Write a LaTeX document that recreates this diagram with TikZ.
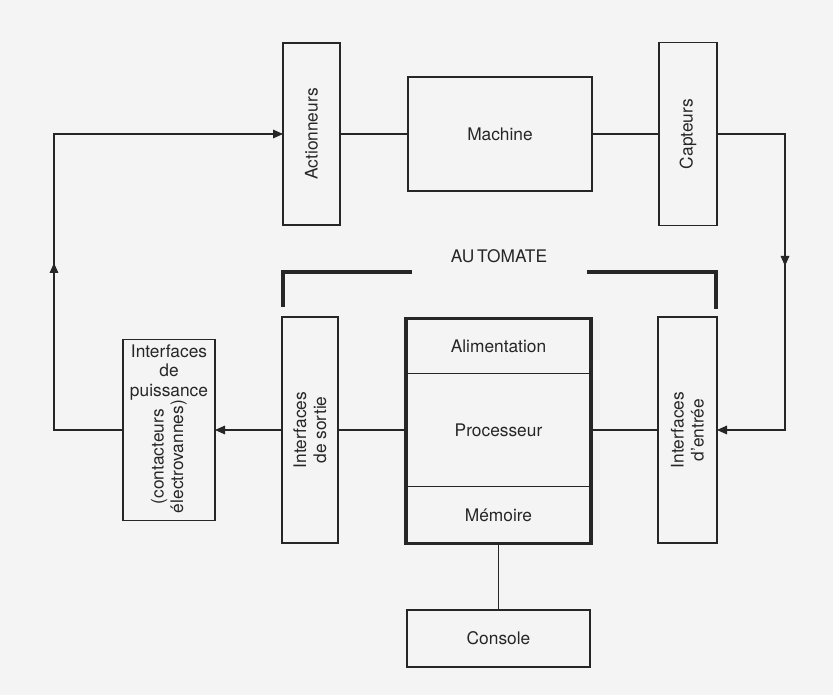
\documentclass[tikz,border=0pt]{standalone}
\usepackage{fontspec}
\setmainfont{TeX Gyre Heros}
\usetikzlibrary{arrows.meta,positioning,fit}
\definecolor{clrLine}{HTML}{262626}
\definecolor{clrPaper}{HTML}{F4F4F4}
% Bildpunkte -> pt (Referenz 833 x 695)
\newcommand\pxl[1]{#1*0.75pt}
\tikzset{
  blk/.style={rectangle, draw=clrLine, line width=0.8pt, inner sep=0pt,
    outer sep=0pt, align=center, text=clrLine,
    font=\fontsize{13}{14.6}\selectfont},
  vtxt/.style={label={[rotate=90, align=center, text=clrLine,
    font=\fontsize{13}{15}\selectfont]center:#1}},
  wire/.style={line width=0.8pt, clrLine},
  arr/.style={wire, -{Triangle[length=7.5pt, width=6.5pt]}},
  automatebrk/.style={draw=clrLine, line width=2.4pt},
  hdr/.style={font=\fontsize{13}{15}\selectfont, text=clrLine},
}

\begin{document}
\begin{tikzpicture}[x=0.75pt, y=-0.75pt]

\def\ytop{134}   % obere Reihe
\def\ybot{430}   % untere Reihe
\def\xleft{54}   % Rueckfuehrung links
\def\xright{785} % Rueckfuehrung rechts

\fill[clrPaper] (0,0) rectangle (833,695);
\useasboundingbox (0,0) rectangle (833,695);

% obere Reihe
\node[blk, vtxt=Actionneurs, minimum width=\pxl{57}, minimum height=\pxl{182}]
  (act) at (311.5, \ytop) {};
\node[blk, minimum width=\pxl{184}, minimum height=\pxl{114}]
  (mach) at (500, \ytop) {Machine};
\node[blk, vtxt=Capteurs, minimum width=\pxl{58}, minimum height=\pxl{183}]
  (capt) at (688, \ytop) {};

% Automate
\node[hdr] (automate) at (499, 256) {AU\,TOMATE};
\draw[automatebrk] (283, 307) |- (412, 272);
\draw[automatebrk] (587, 272) -| (716, 309);

\node[blk, vtxt={Interfaces\\de sortie}, minimum width=\pxl{56}, minimum height=\pxl{226}]
  (sortie) at (310, \ybot) {};
\node[blk, vtxt={Interfaces\\d'entrée}, minimum width=\pxl{59}, minimum height=\pxl{226}]
  (entree) at (687.5, \ybot) {};

\node[blk, minimum width=\pxl{185}, minimum height=\pxl{113}]
  (proc) at (498.5, \ybot) {Processeur};
\node[blk, minimum width=\pxl{185}, minimum height=\pxl{55}, above=0pt of proc]
  (alim) {Alimentation};
\node[blk, minimum width=\pxl{185}, minimum height=\pxl{57}, below=0pt of proc]
  (mem) {Mémoire};
\node[draw=clrLine, line width=2.4pt, inner sep=0pt, fit=(alim)(mem)] (plc) {};

\node[blk, minimum width=\pxl{183}, minimum height=\pxl{57}]
  (console) at (498.5, 638.5) {Console};

\node[blk, minimum width=\pxl{92}, minimum height=\pxl{181}]
  (puis) at (169, \ybot) {};
\node[blk, draw=none, anchor=north] (puistxt) at ([yshift=-4pt]puis.north)
  {Interfaces\\de\\puissance};
\node[blk, draw=none, rotate=90] (puisrot) at ([yshift=-20pt]puis.center)
  {(contacteurs\\électrovannes)};

% Verbindungen
\coordinate (lc) at (\xleft, \ybot);
\coordinate (lup) at (\xleft, 263);
\coordinate (rc) at (\xright, \ytop);
\coordinate (rdn) at (\xright, 266);

\draw[wire] (act.east) -- (mach.west);
\draw[wire] (mach.east) -- (capt.west);
\draw[arr] (capt.east) -- (rc) |- (entree.east);
\draw[arr] (rc) -- (rdn);
\draw[wire] (entree.west) -- (plc.east |- entree.west);
\draw[wire] (plc.west |- sortie.east) -- (sortie.east);
\draw[arr] (sortie.west) -- (puis.east);
\draw[arr] (puis.west) -- (lc) |- (act.west);
\draw[arr] (lc) -- (lup);
\draw[wire] (plc.south) -- (console.north);

\end{tikzpicture}
\end{document}
